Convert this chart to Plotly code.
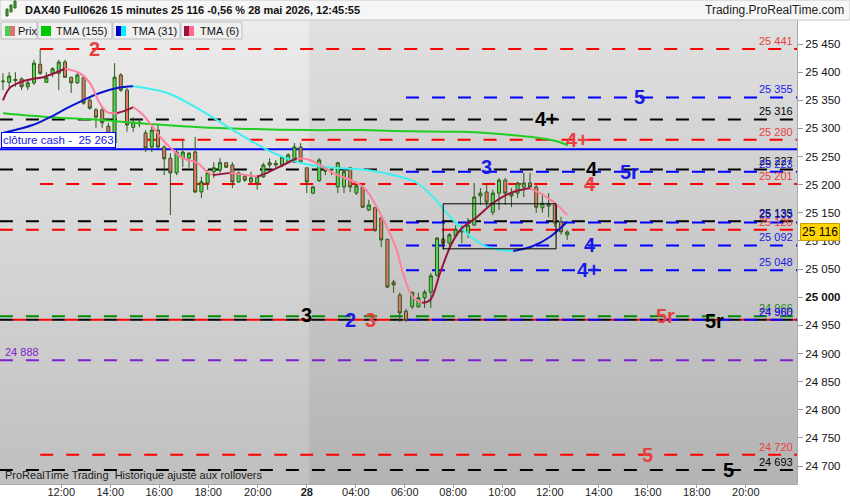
import plotly.graph_objects as go

# DAX40 Full0626, 15 minute bars, 27-28 May 2026 (x = bar number)
opens = [25383, 25382, 25385, 25388, 25374, 25381, 25414, 25382, 25398, 25398,
         25418, 25391, 25381, 25390, 25350, 25333, 25333, 25304, 25274, 25395,
         25368, 25302, 25311, 25292, 25267, 25297, 25267, 25247, 25221, 25247,
         25247, 25258, 25187, 25203, 25223, 25226, 25239, 25235, 25205, 25215,
         25205, 25203, 25214, 25239, 25235, 25235, 25240, 25240, 25267, 25230,
         25185, 25207, 25231, 25226, 25196, 25196, 25230, 25185, 25196, 25155,
         25159, 25141, 25103, 25027, 25004, 24975, 24983, 24983, 24999, 25009,
         25039, 25103, 25096, 25109, 25116, 25114, 25128, 25180, 25187, 25151,
         25185, 25208, 25185, 25185, 25196, 25203, 25196, 25159, 25166, 25164,
         25134, 25111]
highs = [25398, 25400, 25400, 25391, 25386, 25422, 25441, 25400, 25409, 25422,
         25422, 25391, 25400, 25395, 25356, 25336, 25338, 25310, 25416, 25398,
         25372, 25320, 25318, 25297, 25306, 25306, 25270, 25256, 25262, 25279,
         25258, 25285, 25214, 25226, 25240, 25247, 25240, 25240, 25223, 25217,
         25223, 25217, 25239, 25247, 25244, 25249, 25256, 25274, 25274, 25230,
         25197, 25247, 25233, 25231, 25240, 25226, 25231, 25205, 25199, 25173,
         25159, 25144, 25103, 25031, 25008, 24979, 25009, 25008, 25013, 25043,
         25107, 25107, 25114, 25128, 25128, 25141, 25203, 25194, 25203, 25191,
         25212, 25212, 25194, 25205, 25221, 25221, 25199, 25185, 25185, 25167,
         25143, 25119]
lows = [25368, 25368, 25374, 25368, 25368, 25377, 25395, 25381, 25391, 25368,
        25390, 25363, 25379, 25342, 25333, 25301, 25301, 25283, 25270, 25365,
        25294, 25294, 25302, 25258, 25258, 25265, 25217, 25146, 25217, 25231,
        25230, 25185, 25176, 25191, 25212, 25221, 25230, 25194, 25203, 25205,
        25203, 25191, 25212, 25230, 25230, 25231, 25239, 25239, 25239, 25185,
        25183, 25205, 25217, 25217, 25185, 25185, 25187, 25182, 25159, 25153,
        25116, 25089, 25016, 25008, 24956, 24956, 24979, 24981, 24981, 24981,
        25036, 25084, 25084, 25105, 25096, 25105, 25128, 25164, 25159, 25146,
        25155, 25164, 25160, 25176, 25178, 25191, 25150, 25150, 25142, 25125,
        25111, 25102]
closes = [25384, 25393, 25387, 25374, 25381, 25416, 25398, 25390, 25406, 25418,
          25391, 25381, 25395, 25345, 25336, 25320, 25310, 25285, 25391, 25368,
          25306, 25311, 25308, 25265, 25297, 25267, 25246, 25221, 25258, 25258,
          25256, 25187, 25205, 25221, 25230, 25239, 25231, 25205, 25221, 25208,
          25212, 25214, 25235, 25235, 25238, 25249, 25253, 25267, 25240, 25205,
          25196, 25244, 25224, 25228, 25239, 25223, 25196, 25198, 25160, 25164,
          25119, 25102, 25018, 25022, 24972, 24959, 25009, 24999, 25009, 25038,
          25105, 25096, 25111, 25121, 25119, 25128, 25178, 25185, 25169, 25185,
          25208, 25185, 25180, 25203, 25203, 25196, 25160, 25167, 25162, 25132,
          25116, 25116]

# moving averages, read at a few bar positions
tma155_x = [0, 7.6, 15.6, 23.7, 31.8, 39.8, 49.5, 57.6, 65.6, 73.7, 80.2, 85.0, 89.0, 91.1]
tma155_y = [25327, 25320, 25315, 25308, 25302, 25299, 25297, 25297, 25295, 25294,
            25290, 25285, 25278, 25270]
tma31_x = [0, 4.8, 7.6, 10.3, 12.9, 15.6, 18.4, 21.0, 26.5, 31.8, 37.1, 42.6, 47.9,
           53.2, 58.7, 64.0, 66.8, 69.4, 72.1, 74.8, 77.4, 80.2, 82.3, 85.5, 88.2, 91.0]
tma31_y = [25292, 25306, 25320, 25336, 25350, 25363, 25372, 25375, 25363, 25333,
           25297, 25262, 25239, 25230, 25226, 25214, 25203, 25178, 25143, 25114,
           25093, 25084, 25082, 25091, 25107, 25134]
tma6_x = [0, 1.1, 2.7, 4.8, 6.5, 10.0, 12.4, 14.0, 15.6, 16.8, 18.4, 20.0, 21.0, 22.6,
          24.2, 25.8, 27.4, 29.0, 31.3, 32.9, 33.9, 36.6, 39.4, 41.0, 42.6, 45.2, 47.4,
          49.5, 53.2, 58.1, 60.3, 61.9, 63.5, 64.5, 66.1, 67.6, 68.9, 70.5, 72.1, 73.7,
          76.5, 79.0, 81.8, 85.0, 87.7, 89.8, 91.0]
tma6_y = [25350, 25372, 25382, 25388, 25391, 25406, 25398, 25381, 25345, 25329,
          25327, 25333, 25338, 25324, 25302, 25279, 25262, 25247, 25239, 25223,
          25217, 25221, 25217, 25214, 25221, 25235, 25247, 25244, 25221, 25196,
          25160, 25125, 25084, 25043, 25000, 24990, 24995, 25043, 25089, 25119,
          25143, 25167, 25185, 25194, 25178, 25160, 25146]

tick_pos = [9.4, 17.3, 25.2, 33.1, 41.1, 49.0, 56.9, 64.8, 72.6, 80.5, 88.2, 96.1,
            104.0, 111.9, 119.8]
tick_text = ["12:00", "14:00", "16:00", "18:00", "20:00", "<b>28</b>", "04:00",
             "06:00", "08:00", "10:00", "12:00", "14:00", "16:00", "18:00", "20:00"]
price_ticks = [24700, 24750, 24800, 24850, 24900, 24950, 25000, 25050, 25100,
               25150, 25200, 25250, 25300, 25350, 25400, 25450]

# support / resistance levels: value, colour, first bar
levels = [
    (25441, "red", 6), (25355, "blue", 65), (25316, "black", -0.5),
    (25280, "red", 23), (25227, "black", -0.5), (25223, "blue", 65),
    (25201, "red", 6), (25135, "black", -0.5), (25133, "blue", 65),
    (25120, "red", -0.5), (25092, "blue", 65), (25048, "blue", 65),
    (24966, "green", -0.5), (24960, "black", -0.5), (24960, "red", 1.6),
    (24960, "blue", 65), (24888, "purple", -0.5), (24720, "red", 6),
    (24693, "black", -0.5),
]
right_labels = [
    (25441, "red"), (25355, "blue"), (25316, "black"), (25280, "red"),
    (25227, "black"), (25223, "blue"), (25201, "red"), (25135, "black"),
    (25133, "blue"), (25120, "red"), (25092, "blue"), (25048, "blue"),
    (24966, "green"), (24960, "purple"), (24960, "blue"), (24720, "red"),
    (24693, "black"),
]
# wave labels: text, colour, bar, price
marks = [
    ("2", "red", 14.8, 25441), ("5", "blue", 102.7, 25355), ("4+", "black", 87.7, 25316),
    ("4+", "red", 92.7, 25280), ("4", "black", 95.0, 25227), ("5r", "blue", 101.1, 25223),
    ("4", "red", 94.7, 25201), ("3", "blue", 78.0, 25231), ("4", "blue", 94.7, 25092),
    ("4+", "blue", 94.4, 25048), ("3", "black", 49.0, 24968), ("2", "blue", 56.0, 24960),
    ("3", "red", 59.2, 24960), ("5r", "red", 106.8, 24966), ("5r", "black", 114.8, 24957),
    ("5", "red", 104.0, 24720), ("5", "black", 117.0, 24693),
]
cash_close = 25263
last_price = 25116
box = (71.0, 89.2, 25086, 25166)

LINE = {"red": "#ff0000", "blue": "#0000ff", "black": "#000000",
        "green": "#008a00", "purple": "#8020d0"}
TEXT = {"red": "#e84040", "blue": "#1a1ae6", "black": "#000000",
        "green": "#1a8a1a", "purple": "#8020d0"}

X0, X1 = -0.48, 128.06
Y0, Y1 = 24668, 25492.7
PW, PH, TOP = 797, 464, 20


def px(x):
    return x / PW


def py(y):
    return 1 - (y - TOP) / PH


def fmt(v):
    return f"{v:,}".replace(",", " ")


def colour_runs(xs, ys, up, down):
    # split a line into rising / falling pieces
    runs = []
    cur = [0]
    cur_up = ys[1] >= ys[0]
    for i in range(1, len(xs)):
        rising = ys[i] >= ys[i - 1]
        if rising != cur_up:
            runs.append((cur, cur_up))
            cur = [i - 1]
            cur_up = rising
        cur.append(i)
    runs.append((cur, cur_up))
    out = []
    for idx, r in runs:
        out.append(([xs[i] for i in idx], [ys[i] for i in idx], up if r else down))
    return out


fig = go.Figure()

# background gradient, two days
shapes = []
n = 40
for k in range(n):
    t = k / (n - 1)
    left = int(0xc0 + (0xec - 0xc0) * t)
    right = int(0xb4 + (0xe0 - 0xb4) * t)
    for xa, xb, g in [(0, px(309), left), (px(309), 1, right)]:
        shapes.append(dict(type="rect", xref="paper", yref="paper", x0=xa, x1=xb,
                           y0=k / n, y1=(k + 1) / n + 0.002, layer="below",
                           fillcolor=f"rgb({g},{g},{g})", line_width=0))

for v, c, start in levels:
    shapes.append(dict(type="line", xref="x", yref="y", x0=start, x1=X1, y0=v, y1=v,
                       layer="below", line=dict(color=LINE[c], width=2, dash="13px,13px")))
shapes.append(dict(type="line", xref="x", yref="y", x0=X0, x1=X1, y0=cash_close,
                   y1=cash_close, layer="below", line=dict(color="#0000ff", width=2)))
shapes.append(dict(type="rect", xref="x", yref="y", x0=box[0], x1=box[1], y0=box[2],
                   y1=box[3], line=dict(color="black", width=1)))

# header bar and legend boxes
shapes.append(dict(type="rect", xref="paper", yref="paper", x0=0, x1=px(850),
                   y0=py(20), y1=py(0), fillcolor="#f6f6f6",
                   line=dict(color="#c8c8c8", width=1)))
for a, b, c in [(6, 8, "#3fbf3f"), (10, 12, "#3fbf3f"), (14, 16, "#3fbf3f")]:
    shapes.append(dict(type="rect", xref="paper", yref="paper", x0=px(a), x1=px(b),
                       y0=py(16 - (a - 6)), y1=py(9 - (a - 6)), fillcolor=c,
                       line=dict(color="#2a5a16", width=1)))
legend_boxes = [(1, 37, [("#4ccc4c", 5), ("#e07070", 10)], "Prix", 16),
                (38, 112, [("#00c800", 41), ("#00c800", 46)], "TMA (155)", 54),
                (113, 180, [("#0000c8", 116), ("#00f0ff", 121)], "TMA (31)", 130),
                (181, 242, [("#a0103c", 184), ("#ff6a96", 189)], "TMA (6)", 198)]
annotations = []
for a, b, sw, label, tx in legend_boxes:
    shapes.append(dict(type="rect", xref="paper", yref="paper", x0=px(a), x1=px(b),
                       y0=py(39), y1=py(22), fillcolor="#f0f0f0",
                       line=dict(color="#bdbdbd", width=1)))
    for col, sx in sw:
        shapes.append(dict(type="rect", xref="paper", yref="paper", x0=px(sx),
                           x1=px(sx + 5), y0=py(36), y1=py(26), fillcolor=col, line_width=0))
    annotations.append(dict(xref="paper", yref="paper", x=px(tx), y=py(31), text=label,
                            showarrow=False, xanchor="left", yanchor="middle",
                            font=dict(size=11, color="#111")))

fig.add_trace(go.Candlestick(
    x=list(range(len(opens))), open=opens, high=highs, low=lows, close=closes,
    increasing=dict(line=dict(color="#2a5a16", width=1), fillcolor="#55d655"),
    decreasing=dict(line=dict(color="#2a5a16", width=1), fillcolor="#e8736c"),
    whiskerwidth=0, hoverinfo="skip", showlegend=False))

fig.add_trace(go.Scatter(x=tma155_x, y=tma155_y, mode="lines", line_shape="spline",
                         line=dict(color="#22cc22", width=2), showlegend=False,
                         hoverinfo="skip"))
for xs, ys, col in colour_runs(tma31_x, tma31_y, "#0a14d0", "#3ff0f0"):
    fig.add_trace(go.Scatter(x=xs, y=ys, mode="lines", line_shape="spline",
                             line=dict(color=col, width=2), showlegend=False,
                             hoverinfo="skip"))
for xs, ys, col in colour_runs(tma6_x, tma6_y, "#96143c", "#ff80a0"):
    fig.add_trace(go.Scatter(x=xs, y=ys, mode="lines", line_shape="spline",
                             line=dict(color=col, width=2), showlegend=False,
                             hoverinfo="skip"))

for v, c in right_labels:
    annotations.append(dict(x=X1 - 0.3, y=v, xref="x", yref="y", text=fmt(v),
                            showarrow=False, xanchor="right", yanchor="bottom", yshift=0,
                            font=dict(size=11, color=TEXT[c])))
for t, c, xi, v in marks:
    annotations.append(dict(x=xi, y=v, xref="x", yref="y", text=f"<b>{t}</b>",
                            showarrow=False, xanchor="center", yanchor="middle",
                            font=dict(size=20, color=TEXT[c])))

annotations += [
    dict(xref="paper", yref="paper", x=px(23), y=py(10), xanchor="left", yanchor="middle",
         showarrow=False, font=dict(size=11, color="#111"),
         text="<b>DAX40 Full0626 15 minutes 25 116 -0,56 % 28 mai 2026, 12:45:55</b>"),
    dict(xref="paper", yref="paper", x=px(846), y=py(10), xanchor="right",
         yanchor="middle", showarrow=False, font=dict(size=12, color="#222"),
         text="Trading.ProRealTime.com"),
    dict(xref="paper", yref="y", x=px(1), y=cash_close, xanchor="left", yanchor="bottom",
         yshift=1, showarrow=False, text="clôture cash -  " + fmt(cash_close),
         font=dict(size=11.5, color="#1a1ae6"), bgcolor="white", bordercolor="#0000ff",
         borderwidth=1, borderpad=1),
    dict(xref="paper", yref="y", x=px(3), y=24888, xanchor="left", yanchor="bottom",
         showarrow=False, text="24 888", font=dict(size=11, color=TEXT["purple"])),
    dict(xref="paper", yref="paper", x=px(3), y=py(475), xanchor="left", yanchor="middle",
         showarrow=False, text="ProRealTime Trading  Historique ajusté aux rollovers",
         font=dict(size=11, color="#222")),
    dict(xref="paper", yref="y", x=px(800), y=last_price, xanchor="left",
         yanchor="middle", showarrow=False, text=fmt(last_price),
         font=dict(size=12, color="#000"), bgcolor="#ffd400", bordercolor="#c9a000",
         borderwidth=1, borderpad=1),
]

fig.update_layout(
    width=850, height=500,
    margin=dict(l=0, r=53, t=20, b=16),
    paper_bgcolor="white", plot_bgcolor="#d8d8d8",
    font=dict(family="Arial, Liberation Sans, sans-serif"),
    shapes=shapes, annotations=annotations, showlegend=False,
    xaxis=dict(range=[X0, X1], rangeslider=dict(visible=False), showgrid=False,
               zeroline=False, tickmode="array", tickvals=tick_pos, ticktext=tick_text,
               ticks="outside", ticklen=3, tickcolor="#999", showline=True,
               ticklabelstandoff=-5, automargin=False,
               linecolor="#aaaaaa", tickfont=dict(size=11, color="#222"), fixedrange=True),
    yaxis=dict(range=[Y0, Y1], side="right", showgrid=False, zeroline=False,
               tickmode="array", tickvals=price_ticks,
               ticktext=[f"<b>{fmt(v)}</b>" if v == 25000 else fmt(v) for v in price_ticks],
               ticks="outside", ticklen=5, tickcolor="#999", showline=True,
               automargin=False,
               linecolor="#aaaaaa", tickfont=dict(size=11.5, color="#111"), fixedrange=True),
)

# the default page has an 8px body margin; remove it so the figure fills the window
fig.write_html("out.html", config={"displayModeBar": False},
               post_script="document.body.style.margin='0px';")
